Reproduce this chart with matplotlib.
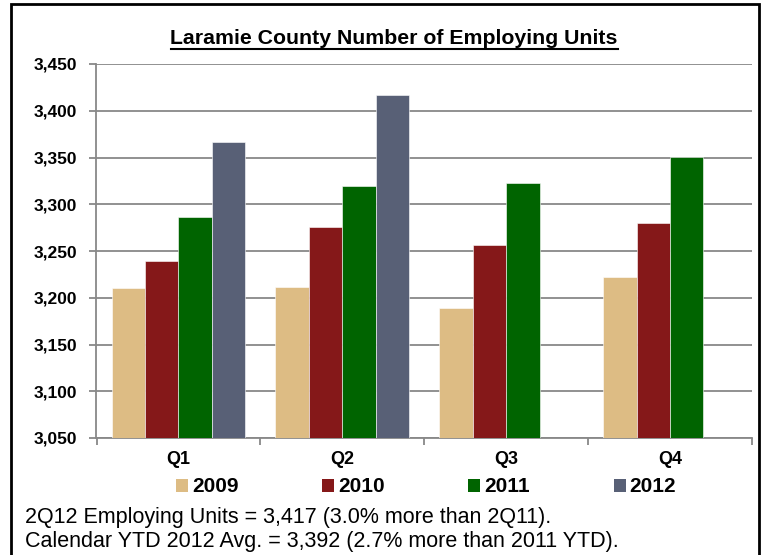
import matplotlib
matplotlib.use("Agg")
import matplotlib.pyplot as plt
import numpy as np
from matplotlib.patches import Rectangle, Patch

plt.rcParams['font.family'] = ['Liberation Sans', 'DejaVu Sans']

# data
quarters = ['Q1', 'Q2', 'Q3', 'Q4']
years = ['2009', '2010', '2011', '2012']
units_2009 = [3210, 3212, 3189, 3222]
units_2010 = [3239, 3276, 3256, 3280]
units_2011 = [3286, 3319, 3323, 3351]
units_2012 = [3367, 3417, None, None]
yticks = [3050, 3100, 3150, 3200, 3250, 3300, 3350, 3400, 3450]
colors = ['#DDBC84', '#851819', '#006400', '#586076']
note1 = '2Q12 Employing Units = 3,417 (3.0% more than 2Q11).'
note2 = 'Calendar YTD 2012 Avg. = 3,392 (2.7% more than 2011 YTD).'

W, H = 764, 555
fig = plt.figure(figsize=(W / 100, H / 100), dpi=100)
ax = fig.add_axes([96.5 / W, 1 - 438 / H, (752 - 96.5) / W, (438 - 64) / H])

series = [units_2009, units_2010, units_2011, units_2012]
x = np.arange(len(quarters))
bw = 0.204
for i, vals in enumerate(series):
    xs = [xx + (i - 1.5) * bw for xx, v in zip(x, vals) if v is not None]
    hs = [v - 3050 for v in vals if v is not None]
    ax.bar(xs, hs, bw, bottom=3050, color=colors[i], edgecolor='white',
           linewidth=0.4, zorder=3)

ax.set_xlim(-0.5, 3.5)
ax.set_ylim(3050, 3450)
ax.set_yticks(yticks)
ax.set_yticklabels(['{:,}'.format(t) for t in yticks], fontsize=12.5, fontweight='bold')
ax.yaxis.grid(True, color='#888888', linewidth=1.3, zorder=0)
ax.set_axisbelow(True)

ax.set_xticks(np.arange(-0.5, 4.0, 1.0))
ax.set_xticklabels([])
ax.set_xticks(x, minor=True)
ax.set_xticklabels(quarters, minor=True, fontsize=13, fontweight='bold')
ax.tick_params(axis='x', which='minor', length=0, pad=9)
ax.tick_params(axis='x', which='major', length=5, color='#888888', width=1.3, direction='out')
ax.tick_params(axis='y', length=5, color='#888888', width=1.3, pad=9)

for s in ['top', 'right']:
    ax.spines[s].set_visible(False)
for s in ['left', 'bottom']:
    ax.spines[s].set_color('#888888')
    ax.spines[s].set_linewidth(1.3)

fig.text(394 / W, 1 - 39 / H, 'Laramie County Number of Employing Units',
         ha='center', va='center', fontsize=15.3, fontweight='bold')
# underline
fig.add_artist(plt.Line2D([171 / W, 618 / W], [1 - 49 / H, 1 - 49 / H], color='black', lw=1.5))

handles = [Patch(facecolor=c, edgecolor='none') for c in colors]
fig.legend(handles, years, loc='center left', bbox_to_anchor=(176 / W, 1 - 487 / H), ncol=4,
           frameon=False, prop={'weight': 'bold', 'size': 15}, borderpad=0, borderaxespad=0,
           handlelength=0.58, handleheight=0.58, handletextpad=0.2, columnspacing=4.0)

fig.text(25 / W, 1 - 518 / H, note1, ha='left', va='center', fontsize=15.5)
fig.text(25 / W, 1 - 542 / H, note2, ha='left', va='center', fontsize=15.5)

fig.add_artist(Rectangle((11 / W, -0.05), (759 - 11) / W, 1.05 - 4 / H, transform=fig.transFigure,
                         fill=False, edgecolor='black', linewidth=2))

fig.savefig('out.png', dpi=100)
